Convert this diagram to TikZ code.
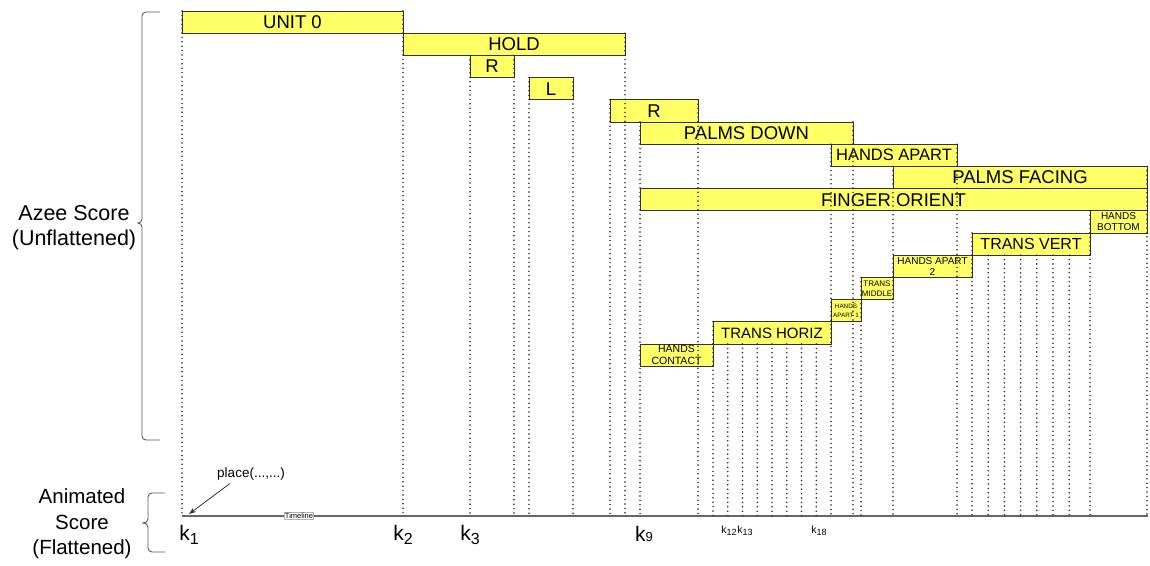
\documentclass[tikz,border=0pt]{standalone}
\usepackage{fontspec}
\setmainfont{Liberation Sans}
\usetikzlibrary{arrows.meta,calc}
\definecolor{byel}{HTML}{FFFF66}
\begin{document}
\begin{tikzpicture}[x=1pt,y=-1pt,
  bx/.style={draw=black!80, fill=byel, line width=0.9pt, inner sep=0pt, outer sep=0pt, minimum height=22.2pt, align=center},
  dl/.style={line width=1.7pt, dash pattern=on 0pt off 4.4pt, line cap=round, draw=black!85},
  fbig/.style={font=\fontsize{18.5}{20}\selectfont},
  brc/.style={draw=black!65, line width=0.9pt},
  klab/.style={anchor=base, inner sep=0pt},
]
\useasboundingbox (0,0) rectangle (1150,565);

% boxes
\node[bx, fbig, minimum width=221pt] (u0) at (292.5,22.1) {UNIT 0};
\node[bx, fbig, minimum width=222pt] (hold) at (514,44.3) {HOLD};
\node[bx, fbig, minimum width=44pt] (r1) at (492,66.5) {R};
\node[bx, fbig, minimum width=44pt] (l1) at (551,88.7) {L};
\node[bx, fbig, minimum width=88pt] (r2) at (654,110.9) {R};
\node[bx, fbig, minimum width=213pt] (pd) at (746.5,133.1) {PALMS DOWN};
\node[bx, font=\fontsize{16.5}{18}\selectfont, minimum width=126pt] (ha) at (894,155.3) {HANDS APART};
\node[bx, fbig, minimum width=254pt] (pf) at (1020,177.5) {PALMS FACING};
\node[bx, fbig, minimum width=507pt] (fo) at (893.5,199.7) {FINGER ORIENT};
\node[bx, font=\fontsize{10}{11}\selectfont, minimum width=57pt] (hb) at (1118.5,221.9) {HANDS\\BOTTOM};
\node[bx, font=\fontsize{16}{18}\selectfont, minimum width=118pt] (tv) at (1031,244.1) {TRANS VERT};
\node[bx, font=\fontsize{10}{11}\selectfont, minimum width=79pt] (ha2) at (932.5,266.3) {HANDS APART\\2};
\node[bx, font=\fontsize{8}{9.5}\selectfont, minimum width=32pt] (tm) at (877,288.5) {TRANS\\MIDDLE};
\node[bx, font=\fontsize{6.3}{8.5}\selectfont, minimum width=30pt] (ha1) at (846,310.7) {HANDS\\APART 1};
\node[bx, font=\fontsize{15}{17}\selectfont, minimum width=118pt] (th) at (772,332.9) {TRANS HORIZ};
\node[bx, font=\fontsize{10.5}{12}\selectfont, minimum width=73pt] (hc) at (676.5,355.1) {HANDS\\CONTACT};

% timeline
\coordinate (tl) at (182,516);
\coordinate (tr) at (1148,516);
\draw[draw=black!60, line width=1.2pt] (tl) -- (tr);
\node[font=\fontsize{7.5}{8}\selectfont, fill=white, draw=black!30, line width=0.4pt, inner sep=0.6pt] (tll) at (299,515.5) {Timeline};

% dotted keyframe lines
\foreach \p in {u0.north west,u0.north east,hold.north east,r1.north west,r1.north east,
  l1.north west,l1.north east,r2.north west,r2.north east,pd.north west,pd.north east,
  ha.north west,ha.north east,pf.north west,pf.north east,hb.north west,tv.north west,
  tm.north west,th.north west}
  \draw[dl] (\p) -- (\p |- tl);
\foreach \i in {1,...,7}{
  \coordinate (thk\i) at ($(th.south west)!\i/8!(th.south east)$);
  \draw[dl] (thk\i) -- (thk\i |- tl);
}
\foreach \i in {1,...,6}{
  \coordinate (tvk\i) at ($(tv.south west)!\i*0.1373!(tv.south east)$);
  \draw[dl] (tvk\i) -- (tvk\i |- tl);
}

% place arrow
\node[font=\fontsize{13.5}{15}\selectfont, inner sep=0pt] (place) at (251,474) {place(...,...)};
\coordinate (ptip) at (189,514);
\draw[black!80, line width=0.8pt, -{Stealth[length=7pt,width=5pt]}] ($(place.south west)!0.19!(place.south east)+(0,3)$) -- (ptip);

% k labels
\node[klab, font=\fontsize{21}{22}\selectfont] (k1) at (189,540) {k\raisebox{-4pt}{\fontsize{16}{16}\selectfont 1}};
\node[klab, font=\fontsize{21}{22}\selectfont] (k2) at (403,540) {k\raisebox{-4pt}{\fontsize{16}{16}\selectfont 2}};
\node[klab, font=\fontsize{21}{22}\selectfont] (k3) at (470,540) {k\raisebox{-4pt}{\fontsize{16}{16}\selectfont 3}};
\node[klab, font=\fontsize{21}{22}\selectfont] (k9) at (644,541) {k{\fontsize{13}{13}\selectfont 9}};
\node[klab, font=\fontsize{10.5}{12}\selectfont] (k12) at (729,533) {k\raisebox{-2.5pt}{\fontsize{9}{9}\selectfont 12}};
\node[klab, font=\fontsize{10.5}{12}\selectfont] (k13) at (745,533) {k\raisebox{-2.5pt}{\fontsize{9}{9}\selectfont 13}};
\node[klab, font=\fontsize{10.5}{12}\selectfont] (k18) at (819,533) {k\raisebox{-2.5pt}{\fontsize{9}{9}\selectfont 18}};

% braces and side labels
\draw[brc] (160,12) -- (146,12) to[out=180,in=90] (142,16) -- (142,219)
  to[out=-90,in=0] (138,223) to[out=0,in=90] (142,227) -- (142,436)
  to[out=-90,in=180] (146,440) -- (160,440);
\node[font=\fontsize{21.5}{25}\selectfont, align=center, inner sep=0pt] (azee) at (74,228) {Azee Score\\(Unflattened)};

\draw[brc] (165,493) -- (152,493) to[out=180,in=90] (148,497) -- (148,519)
  to[out=-90,in=0] (143,523) to[out=0,in=90] (148,527) -- (148,548)
  to[out=-90,in=180] (152,552) -- (165,552);
\node[font=\fontsize{20.5}{25.5}\selectfont, align=center, inner sep=0pt] (anim) at (82,524) {Animated\\Score\\(Flattened)};
\end{tikzpicture}
\end{document}
